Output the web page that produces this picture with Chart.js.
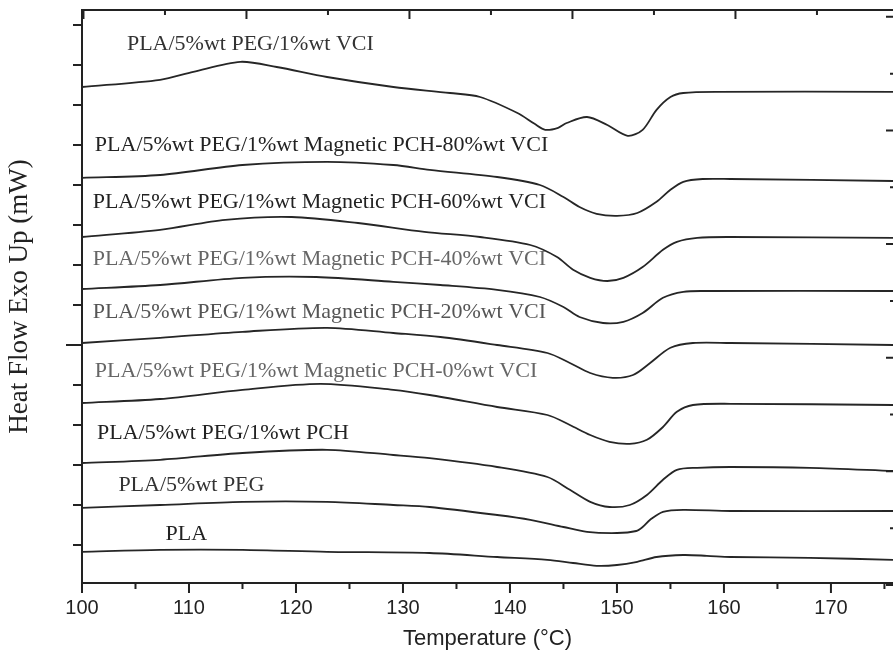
<!DOCTYPE html>
<html>
<head>
<meta charset="utf-8">
<title>DSC thermograms</title>
<script src="https://cdn.jsdelivr.net/npm/chart.js@4.4.1/dist/chart.umd.min.js"></script>
<style>
  html, body { margin: 0; padding: 0; background: #fff; }
  canvas { display: block; }
</style>
</head>
<body>
<canvas id="dscChart" width="893" height="657"></canvas>
<script>
// DSC heating scans, curves stacked with an offset (heat flow, exo up)

// temperatures (°C) and heat flow (mW, offset), top curve first
const vciT   = [100, 107.3, 110.4, 114.8, 118.2, 122.9, 129.1, 134.4, 137.2, 140.7, 142.3, 143.3, 144.5, 145.3, 147.2, 149.1, 151.0, 152.4, 153.7, 155.0, 156.2, 159.3, 175.8];
const vciHF  = [12.45, 12.63, 12.83, 13.08, 12.95, 12.7, 12.45, 12.3, 12.2, 11.8, 11.53, 11.38, 11.43, 11.55, 11.7, 11.5, 11.23, 11.38, 11.88, 12.2, 12.3, 12.33, 12.33];

const pch80T  = [100, 107.3, 115.0, 122.9, 129.1, 132.5, 138.8, 142.8, 145.0, 146.5, 148.1, 150.0, 151.9, 153.7, 155.0, 156.2, 158.0, 160.6, 175.8];
const pch80HF = [10.18, 10.25, 10.5, 10.58, 10.5, 10.38, 10.2, 10.0, 9.7, 9.45, 9.28, 9.23, 9.3, 9.58, 9.88, 10.08, 10.15, 10.15, 10.1];

const pch60T  = [100, 107.3, 113.4, 119.6, 125.8, 132.0, 137.2, 141.9, 144.4, 145.9, 147.5, 149.1, 150.6, 152.4, 154.3, 155.6, 157.5, 160.6, 175.8];
const pch60HF = [8.7, 8.88, 9.13, 9.2, 9.05, 8.83, 8.7, 8.5, 8.2, 7.88, 7.68, 7.6, 7.68, 7.95, 8.38, 8.58, 8.68, 8.7, 8.68];

const pch40T  = [100, 107.3, 115.0, 121.9, 129.1, 133.5, 138.8, 142.8, 145.0, 146.5, 148.7, 150.6, 152.4, 154.3, 156.2, 158.4, 175.8];
const pch40HF = [7.4, 7.5, 7.68, 7.7, 7.58, 7.5, 7.38, 7.2, 6.95, 6.7, 6.55, 6.58, 6.8, 7.18, 7.33, 7.35, 7.35];

const pch20T  = [100, 107.3, 115.0, 122.9, 129.1, 133.5, 138.8, 143.5, 145.6, 147.5, 149.6, 151.5, 153.1, 155.0, 157.1, 160.6, 175.8];
const pch20HF = [6.05, 6.18, 6.33, 6.43, 6.3, 6.2, 6.0, 5.8, 5.55, 5.3, 5.18, 5.25, 5.55, 5.93, 6.05, 6.05, 6.0];

const pch0T  = [100, 107.3, 115.0, 122.3, 129.1, 132.5, 138.8, 143.5, 145.6, 147.5, 149.3, 151.2, 152.8, 154.3, 155.6, 157.1, 160.6, 175.8];
const pch0HF = [4.55, 4.65, 4.88, 5.03, 4.88, 4.75, 4.45, 4.25, 4.0, 3.75, 3.58, 3.53, 3.63, 3.95, 4.33, 4.5, 4.53, 4.5];

const pchT  = [100, 107.3, 115.0, 122.9, 129.1, 132.5, 138.8, 143.5, 145.6, 147.5, 149.3, 151.2, 152.8, 154.3, 155.6, 157.5, 160.6, 168.0, 175.8];
const pchHF = [3.05, 3.13, 3.3, 3.38, 3.25, 3.17, 2.95, 2.7, 2.38, 2.08, 1.95, 2.0, 2.25, 2.63, 2.88, 2.93, 2.95, 2.93, 2.85];

const pegT  = [100, 107.3, 115.0, 122.9, 129.1, 132.5, 138.8, 141.9, 145.0, 147.2, 150.0, 151.8, 152.4, 153.1, 154.3, 156.2, 160.6, 175.8];
const pegHF = [1.93, 2.0, 2.08, 2.08, 2.0, 1.95, 1.75, 1.63, 1.45, 1.33, 1.3, 1.35, 1.45, 1.63, 1.83, 1.88, 1.85, 1.85];

const plaT  = [100, 107.3, 115.0, 122.9, 132.5, 138.8, 143.5, 145.9, 148.1, 150.0, 151.9, 153.7, 156.2, 158.4, 160.6, 168.0, 175.8];
const plaHF = [0.83, 0.88, 0.88, 0.83, 0.8, 0.7, 0.63, 0.55, 0.48, 0.5, 0.58, 0.7, 0.75, 0.73, 0.7, 0.68, 0.63];

// curve names and where each one is written (temperature, heat flow of the text's left/middle)
const curveNames = [
  'PLA/5%wt PEG/1%wt VCI',
  'PLA/5%wt PEG/1%wt Magnetic PCH-80%wt VCI',
  'PLA/5%wt PEG/1%wt Magnetic PCH-60%wt VCI',
  'PLA/5%wt PEG/1%wt Magnetic PCH-40%wt VCI',
  'PLA/5%wt PEG/1%wt Magnetic PCH-20%wt VCI',
  'PLA/5%wt PEG/1%wt Magnetic PCH-0%wt VCI',
  'PLA/5%wt PEG/1%wt PCH',
  'PLA/5%wt PEG',
  'PLA'
];
const nameT  = [104.2, 101.2, 101.0, 101.0, 101.0, 101.2, 101.4, 103.4, 107.8];
const nameHF = [13.53, 11.0, 9.58, 8.15, 6.83, 5.35, 3.8, 2.5, 1.28];
const nameColors = ['#333', '#222', '#222', '#666', '#555', '#666', '#222', '#333', '#222'];

// axis ticks
const tempTicks = [100, 110, 120, 130, 140, 150, 160, 170];
const tempMinorTicks = [105, 115, 125, 135, 145, 155, 165, 175];
const leftTicks = [1, 2, 3, 4, 5, 6, 7, 8, 9, 10, 11, 12, 13, 14];
const topTicks = [-1, 0, 1, 2, 3, 4, 5, 6, 7, 8];
const rightTicks = [0, 1, 2, 3, 4, 5, 6, 7, 8, 9, 10];

const curves = [
  [vciT, vciHF], [pch80T, pch80HF], [pch60T, pch60HF], [pch40T, pch40HF],
  [pch20T, pch20HF], [pch0T, pch0HF], [pchT, pchHF], [pegT, pegHF], [plaT, plaHF]
];

const datasets = curves.map(([t, hf], i) => ({
  label: curveNames[i],
  data: t.map((v, j) => ({ x: v, y: hf[j] })),
  borderColor: '#262626',
  borderWidth: 1.8,
  pointRadius: 0,
  fill: false,
  tension: 0.3
}));

// tick marks: out on bottom/left, in on top/right
const tickMarks = {
  id: 'tickMarks',
  afterDraw(chart) {
    const { ctx, scales } = chart;
    const { x, x2, y, y2 } = scales;
    ctx.save();
    ctx.strokeStyle = '#222';
    ctx.lineWidth = 2;
    ctx.beginPath();
    tempTicks.forEach(v => {
      const p = x.getPixelForValue(v);
      ctx.moveTo(p, x.top); ctx.lineTo(p, x.top + 10);
    });
    tempMinorTicks.forEach(v => {
      const p = x.getPixelForValue(v);
      ctx.moveTo(p, x.top); ctx.lineTo(p, x.top + 6);
    });
    leftTicks.forEach(v => {
      const p = y.getPixelForValue(v);
      const len = v === 6 ? 16 : 9;
      ctx.moveTo(y.right, p); ctx.lineTo(y.right - len, p);
    });
    topTicks.forEach(v => {
      const p = x2.getPixelForValue(v);
      const len = Math.abs(v % 2) === 1 ? 9 : 5;
      ctx.moveTo(p, x2.bottom); ctx.lineTo(p, x2.bottom + len);
    });
    rightTicks.forEach(v => {
      const p = y2.getPixelForValue(v);
      const len = v % 2 === 0 ? 7 : 3;
      ctx.moveTo(chart.chartArea.right, p); ctx.lineTo(chart.chartArea.right - len, p);
    });
    ctx.stroke();
    ctx.restore();
  }
};

// names written over the curves
const curveLabels = {
  id: 'curveLabels',
  afterDatasetsDraw(chart) {
    const { ctx, scales } = chart;
    ctx.save();
    ctx.font = '22px "Liberation Serif", "Times New Roman", serif';
    ctx.textAlign = 'left';
    ctx.textBaseline = 'middle';
    curveNames.forEach((name, i) => {
      ctx.fillStyle = nameColors[i];
      ctx.fillText(name, scales.x.getPixelForValue(nameT[i]), scales.y.getPixelForValue(nameHF[i]));
    });
    ctx.restore();
  }
};

const ctx = document.getElementById('dscChart').getContext('2d');

const config = {
  type: 'line',
  data: { datasets: datasets },
  options: {
    responsive: false,
    animation: false,
    layout: { padding: 0 },
    plugins: {
      legend: { display: false },
      tooltip: { enabled: false }
    },
    scales: {
      x: {
        type: 'linear',
        position: 'bottom',
        min: 100,
        max: 175.8,
        afterBuildTicks: s => { s.ticks = tempTicks.map(v => ({ value: v })); },
        afterFit: s => { s.height = 74; },
        grid: { display: false, drawTicks: false },
        border: { display: true, color: '#222', width: 2 },
        ticks: {
          color: '#222',
          padding: 13,
          maxRotation: 0,
          font: { family: '"Liberation Sans", Arial, sans-serif', size: 20 }
        },
        title: {
          display: true,
          text: 'Temperature (°C)',
          color: '#222',
          padding: { top: 0, bottom: 5 },
          font: { family: '"Liberation Sans", Arial, sans-serif', size: 22 }
        }
      },
      x2: {
        type: 'linear',
        position: 'top',
        min: -1.018,
        max: 8.933,
        afterBuildTicks: s => { s.ticks = topTicks.map(v => ({ value: v })); },
        afterFit: s => { s.height = 10; },
        grid: { display: false, drawTicks: false },
        border: { display: true, color: '#222', width: 2 },
        ticks: { display: false }
      },
      y: {
        type: 'linear',
        position: 'left',
        min: 0.05,
        max: 14.375,
        afterBuildTicks: s => { s.ticks = leftTicks.map(v => ({ value: v })); },
        afterFit: s => { s.width = 82; },
        grid: { display: false, drawTicks: false },
        border: { display: true, color: '#222', width: 2 },
        ticks: { display: false },
        title: {
          display: true,
          text: 'Heat Flow Exo Up (mW)',
          color: '#222',
          padding: { top: 4, bottom: 0 },
          font: { family: '"Liberation Serif", "Times New Roman", serif', size: 27 }
        }
      },
      y2: {
        type: 'linear',
        position: 'right',
        min: 0.035,
        max: 10.12,
        afterBuildTicks: s => { s.ticks = rightTicks.map(v => ({ value: v })); },
        afterFit: s => { s.width = 0; },
        grid: { display: false, drawTicks: false },
        border: { display: false },
        ticks: { display: false }
      }
    }
  },
  plugins: [tickMarks, curveLabels]
};

const dscChart = new Chart(ctx, config);
</script>
</body>
</html>
